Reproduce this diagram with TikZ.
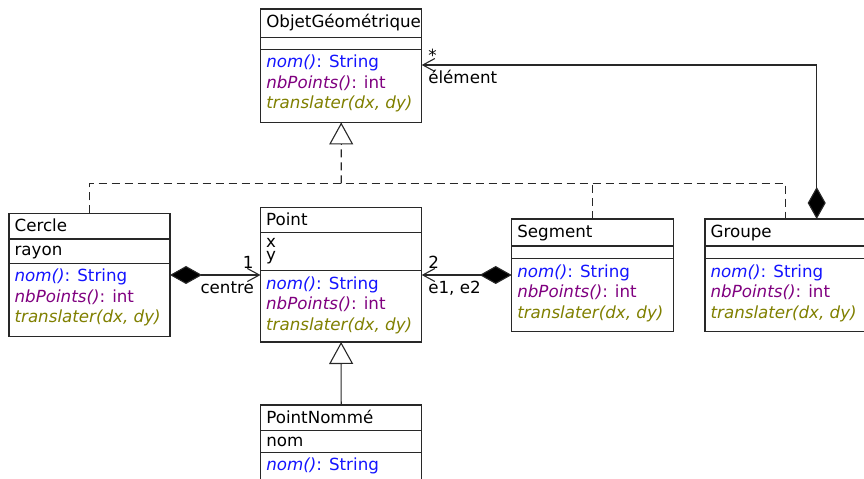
\documentclass[tikz,border=0pt]{standalone}
\usepackage{fontspec}
\setmainfont{DejaVu Sans}
\usetikzlibrary{arrows.meta}
\definecolor{mblue}{RGB}{20,20,255}
\definecolor{mpurple}{RGB}{128,0,128}
\definecolor{molive}{RGB}{128,128,0}
\definecolor{lineclr}{RGB}{40,40,40}
\tikzset{
  umlbox/.style={draw=lineclr, line width=1.1bp, fill=white, anchor=north west, inner sep=0pt, outer sep=0pt},
  sepline/.style={draw=lineclr, line width=1.1bp},
  txt/.style={anchor=base west, inner sep=0pt, outer sep=0pt, font=\fontsize{16.7bp}{20bp}\selectfont},
  conn/.style={draw=lineclr, line width=1.1bp},
  comp/.style={conn, {Diamond[length=32bp,width=18bp,fill=black]}-{Straight Barb[length=12bp,width=13bp,line width=1.1bp]}},
  compnoarrow/.style={conn, {Diamond[length=32bp,width=18bp,fill=black]}-},
  navarrow/.style={conn, -{Straight Barb[length=12bp,width=13bp,line width=1.1bp]}},
  inh/.style={conn, -{Triangle[open,length=22bp,width=24bp,fill=white]}},
  realiz/.style={conn, dash pattern=on 8bp off 5bp},
}
\newcommand{\mnom}{{\color{mblue}\textit{nom()}: String}}
\newcommand{\mnb}{{\color{mpurple}\textit{nbPoints()}: int}}
\newcommand{\mtr}{{\color{molive}\textit{translater(dx, dy)}}}
\begin{document}
\begin{tikzpicture}[x=1bp,y=-1bp]
\useasboundingbox (0,0) rectangle (864,479);
\clip (0,0) rectangle (864,479);
\fill[white] (0,0) rectangle (864,479);

% ObjetGeometrique
\node[umlbox, minimum width=161bp, minimum height=113.5bp] (obj) at (260.7,9) {};
\draw[sepline] (260.7,37.5) -- (421.7,37.5);
\draw[sepline] (260.7,49.3) -- (421.7,49.3);
\node[txt] (objt) at (266.3,27.3) {ObjetGéométrique};
\node[txt] (objm1) at (266.3,67.7) {\mnom};
\node[txt] (objm2) at (266.3,88.3) {\mnb};
\node[txt] (objm3) at (266.3,109) {\mtr};

% Cercle
\node[umlbox, minimum width=161bp, minimum height=123.4bp] (cercle) at (9,213.3) {};
\draw[sepline] (9,239) -- (170,239);
\draw[sepline] (9,263.3) -- (170,263.3);
\node[txt] (cert) at (14.6,231.7) {Cercle};
\node[txt] (cera) at (14.6,255.5) {rayon};
\node[txt] (cerm1) at (14.6,281.7) {\mnom};
\node[txt] (cerm2) at (14.6,302.3) {\mnb};
\node[txt] (cerm3) at (14.6,323) {\mtr};

% Point
\node[umlbox, minimum width=161.2bp, minimum height=134.3bp] (point) at (260.5,207.7) {};
\draw[sepline] (260.5,232.3) -- (421.7,232.3);
\draw[sepline] (260.5,270.7) -- (421.7,270.7);
\node[txt] (ptt) at (266.1,225.7) {Point};
\node[txt] (ptx) at (266.1,247.7) {x};
\node[txt] (pty) at (266.1,260.5) {y};
\node[txt] (ptm1) at (266.1,289.2) {\mnom};
\node[txt] (ptm2) at (266.1,309.7) {\mnb};
\node[txt] (ptm3) at (266.1,330.2) {\mtr};

% Segment
\node[umlbox, minimum width=161.6bp, minimum height=112.7bp] (seg) at (511.7,219) {};
\draw[sepline] (511.7,246) -- (673.3,246);
\draw[sepline] (511.7,258.7) -- (673.3,258.7);
\node[txt] (segt) at (517.3,237.2) {Segment};
\node[txt] (segm1) at (517.3,277.2) {\mnom};
\node[txt] (segm2) at (517.3,297.7) {\mnb};
\node[txt] (segm3) at (517.3,318.3) {\mtr};

% Groupe
\node[umlbox, minimum width=162bp, minimum height=112.7bp] (grp) at (705,219) {};
\draw[sepline] (705,246) -- (867,246);
\draw[sepline] (705,258.7) -- (867,258.7);
\node[txt] (grpt) at (710.6,237.2) {Groupe};
\node[txt] (grpm1) at (710.6,277.2) {\mnom};
\node[txt] (grpm2) at (710.6,297.7) {\mnb};
\node[txt] (grpm3) at (710.6,318.3) {\mtr};

% PointNomme
\node[umlbox, minimum width=161bp, minimum height=110bp] (pn) at (260.7,405) {};
\draw[sepline] (260.7,430.7) -- (421.7,430.7);
\draw[sepline] (260.7,452.7) -- (421.7,452.7);
\node[txt] (pnt) at (266.3,423.7) {PointNommé};
\node[txt] (pna) at (266.3,446) {nom};
\node[txt] (pnm1) at (266.3,470) {\mnom};

% realization (dashed) to ObjetGeometrique
\coordinate (junc) at (341.2,183.3);
\coordinate (jl) at (89.5,183.3);
\coordinate (jr) at (785.3,183.3);
\coordinate (js) at (592.3,183.3);
\draw[realiz] (cercle.north -| jl) -- (jl) -- (jr) -- (grp.north -| jr);
\draw[realiz] (seg.north -| js) -- (js);
\draw[realiz] (junc) -- (obj.south);
\draw[inh] ([yshift=-0.01bp]obj.south |- 0,145) -- (obj.south);

% inheritance PointNomme -> Point
\draw[inh] (pn.north) -- (point.south);

% compositions
\coordinate (cy) at (0,275);
\draw[comp] (cercle.east |- cy) -- (point.west |- cy);
\draw[comp] (seg.west |- cy) -- (point.east |- cy);
\coordinate (gx) at (816.7,0);
\coordinate (gbend) at (816.7,65);
\draw[compnoarrow] (grp.north -| gx) -- (gbend);
\draw[navarrow] (gbend) -- (obj.east |- gbend);

% labels
\node[txt] (lstar) at (428.3,61.5) {*};
\node[txt] (lelem) at (428.3,84) {élément};
\node[txt] (lone) at (242.8,268.5) {1};
\node[txt] (lcentre) at (200.5,293.3) {centre};
\node[txt] (ltwo) at (428.3,268.5) {2};
\node[txt] (le) at (428.3,293.3) {e1, e2};
\end{tikzpicture}
\end{document}
